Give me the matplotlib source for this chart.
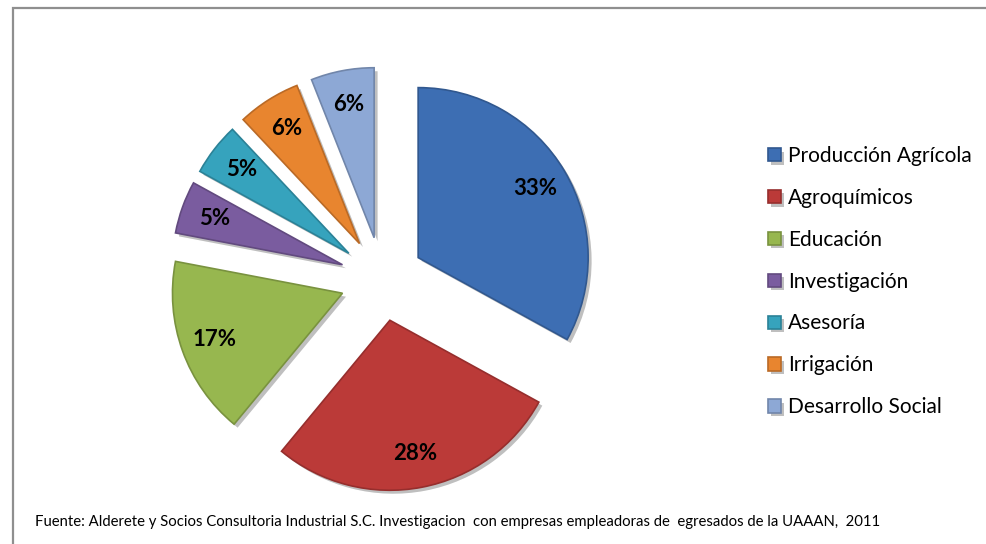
import matplotlib
matplotlib.use('Agg')
import matplotlib.pyplot as plt
import matplotlib.patheffects as pe
from matplotlib.patches import Rectangle
import matplotlib.colors as mcolors

plt.rcParams['font.family'] = ['Lato', 'DejaVu Sans']

categories = ['Producción Agrícola', 'Agroquímicos', 'Educación', 'Investigación',
              'Asesoría', 'Irrigación', 'Desarrollo Social']
values = [33, 28, 17, 5, 5, 6, 6]
colors = ['#3D6EB3', '#BB3A38', '#97B74F', '#7A5C9F', '#36A3BD', '#E8852F', '#8DA8D5']
source = ('Fuente: Alderete y Socios Consultoria Industrial S.C. Investigacion  con empresas '
          'empleadoras de  egresados de la UAAAN,  2011')

W, H = 986, 544
fig = plt.figure(figsize=(W / 100, H / 100), dpi=100)
ax = fig.add_axes([0, 0, 1, 1])

center = (382, H - 279)
R = 170
wedges, texts, autotexts = ax.pie(
    values, colors=colors, startangle=90, counterclock=False, radius=R,
    center=center, explode=[42] * len(values), autopct='%1.0f%%', pctdistance=0.8,
    textprops=dict(fontsize=16, fontweight='bold', color='black'),
    wedgeprops=dict(linewidth=1.2))

for w, c in zip(wedges, colors):
    rgb = mcolors.to_rgb(c)
    w.set_edgecolor(tuple(v * 0.8 for v in rgb))
    w.set_path_effects([pe.SimplePatchShadow(offset=(2.5, -2.5), shadow_rgbFace='#000000', alpha=0.25),
                        pe.Normal()])

ax.set_xlim(0, W)
ax.set_ylim(0, H)
ax.set_aspect('equal')
ax.axis('off')

leg = ax.legend(wedges, categories, loc='upper left',
                bbox_to_anchor=(768 / W, 1 - 146 / H), frameon=False,
                fontsize=15, labelspacing=1.05, handlelength=0.6, handleheight=0.6,
                handletextpad=0.35, borderaxespad=0, borderpad=0)

fig.text(35 / W, 1 - 522 / H, source, va='center', ha='left', fontsize=10.7, color='black')

frame = Rectangle((12.5, -20), 1100, (H - 8) + 20, fill=False, edgecolor='#8f8f8f',
                  linewidth=1.6, clip_on=False)
ax.add_patch(frame)

fig.savefig('out.png', dpi=100, facecolor='white')
